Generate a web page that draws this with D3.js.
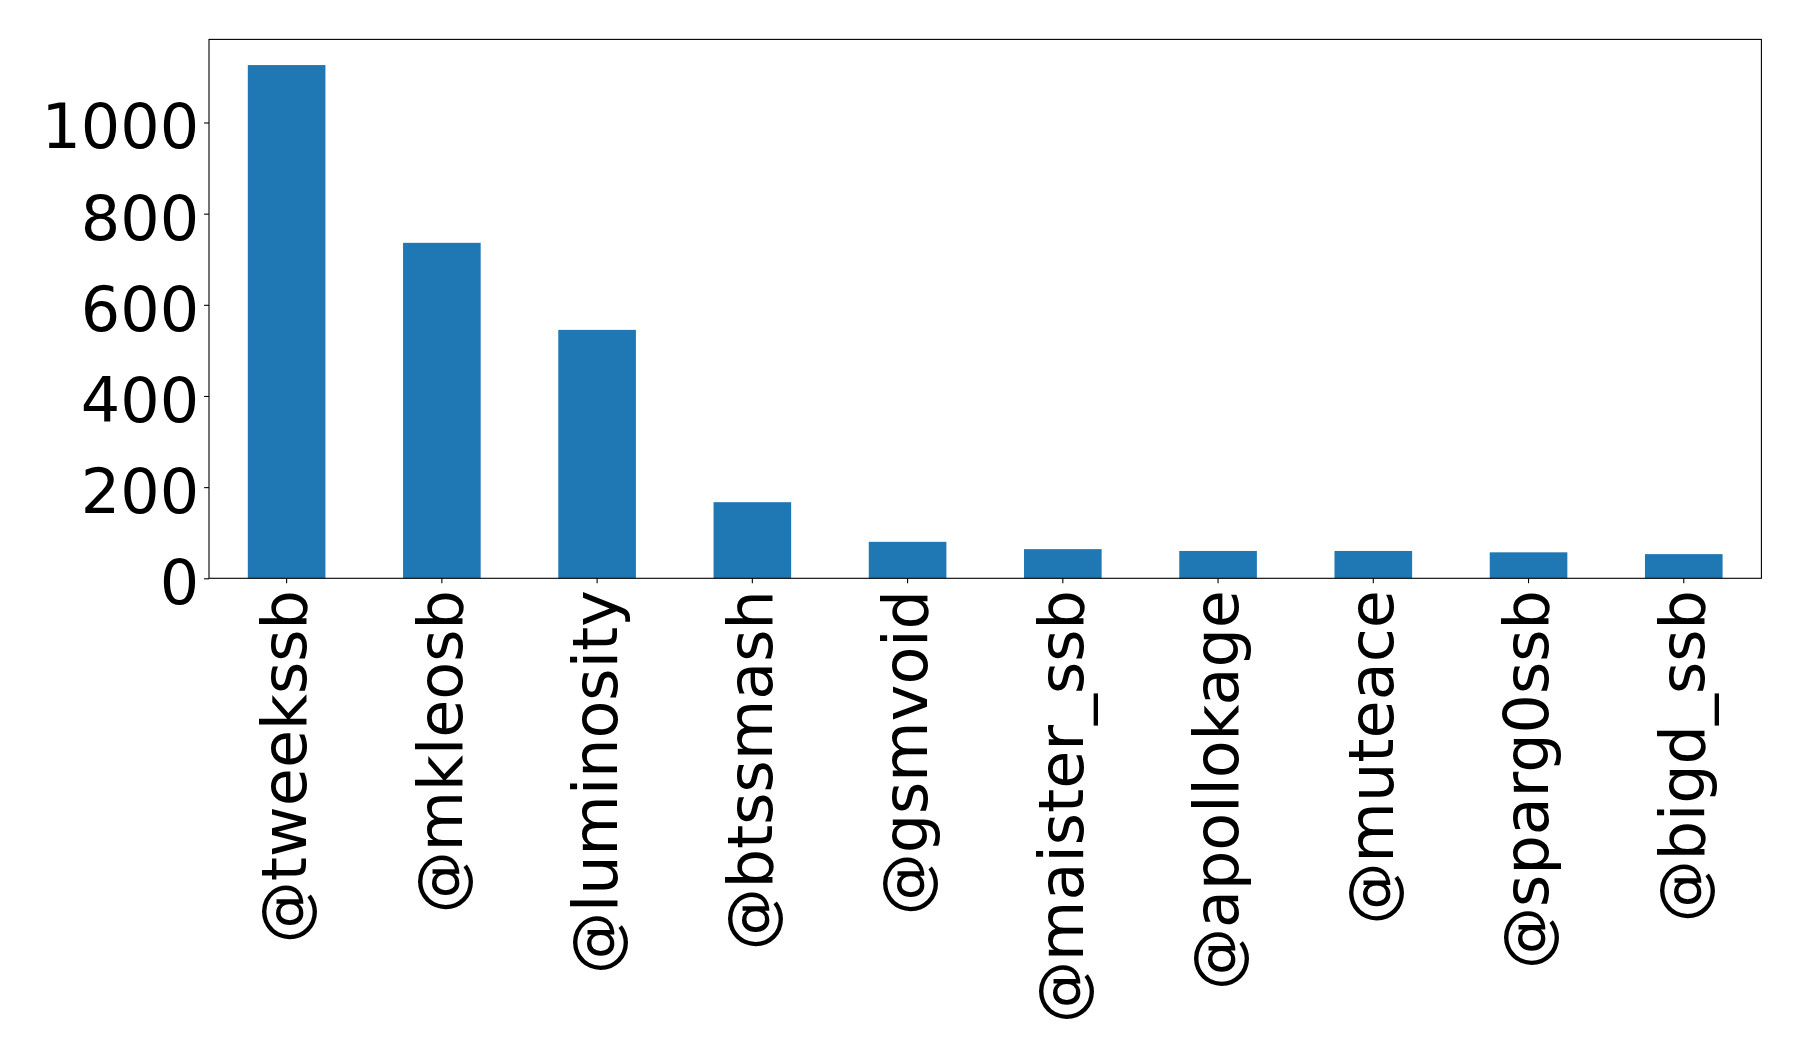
<!DOCTYPE html>
<html>
<head>
<meta charset="utf-8">
<script src="https://cdn.jsdelivr.net/npm/d3@7"></script>
<style>
  body { margin: 0; background: #fff; }
  svg { display: block; }
  .tick text { font-family: "DejaVu Sans", sans-serif; fill: #000; }
  .tick line { stroke: #000; stroke-width: 1.1; }
</style>
</head>
<body>
<div id="chart"></div>
<script>
// accounts, ordered by count
const accounts = ["@tweekssb", "@mkleosb", "@luminosity", "@btssmash", "@gsmvoid",
                  "@maister_ssb", "@apollokage", "@muteace", "@sparg0ssb", "@bigd_ssb"];
const counts = [1126, 736, 545, 167, 80, 64, 60, 60, 57, 53];
const yTicks = [0, 200, 400, 600, 800, 1000];

let config = {
    width: 1798,
    height: 1064,
    margin: { top: 39.4, right: 36.6, bottom: 485.7, left: 209 },
    fontSize: 62,
    tick: 4.9
};

const data = accounts.map((a, i) => ({ name: a, value: counts[i] }));

let svg = d3.select("#chart").append("svg")
    .attr("width", config.width)
    .attr("height", config.height);

svg.append("rect")
    .attr("width", config.width)
    .attr("height", config.height)
    .attr("fill", "#fff");

let innerW = config.width - config.margin.left - config.margin.right;
let innerH = config.height - config.margin.top - config.margin.bottom;

let graph = svg.append("g")
    .attr("transform", "translate(" + config.margin.left + "," + config.margin.top + ")");

// x: categories, bars take half of each slot (pandas style)
let x = d3.scaleBand()
    .domain(accounts)
    .range([0, innerW])
    .paddingInner(0.5)
    .paddingOuter(0.25);

// y: 5% headroom over tallest bar
let y = d3.scaleLinear()
    .domain([0, d3.max(counts) * 1.05])
    .range([innerH, 0]);

graph.selectAll(".bar")
  .data(data)
  .join("rect")
    .attr("class", "bar")
    .attr("x", d => x(d.name))
    .attr("y", d => y(d.value))
    .attr("width", x.bandwidth())
    .attr("height", d => innerH - y(d.value))
    .attr("fill", "#1f77b4");

// Y axis
let yAxis = graph.append("g")
    .call(d3.axisLeft(y).tickValues(yTicks).tickFormat(d3.format("d"))
        .tickSize(config.tick).tickPadding(config.tick));
yAxis.select(".domain").remove();
yAxis.selectAll("text")
    .attr("font-size", config.fontSize)
    .attr("dy", "0.41em");

// X axis, labels rotated to read bottom-to-top
let xAxis = graph.append("g")
    .attr("transform", "translate(0," + innerH + ")")
    .call(d3.axisBottom(x).tickSize(config.tick).tickPadding(config.tick));
xAxis.select(".domain").remove();
xAxis.selectAll("text")
    .attr("font-size", config.fontSize)
    .attr("text-anchor", "end")
    .attr("transform", "rotate(-90)")
    .attr("x", -(config.tick * 2 + 2))
    .attr("y", 0)
    .attr("dy", "0.32em");

// frame
graph.append("rect")
    .attr("width", innerW)
    .attr("height", innerH)
    .attr("fill", "none")
    .attr("stroke", "#000")
    .attr("stroke-width", 1.1);
</script>
</body>
</html>
